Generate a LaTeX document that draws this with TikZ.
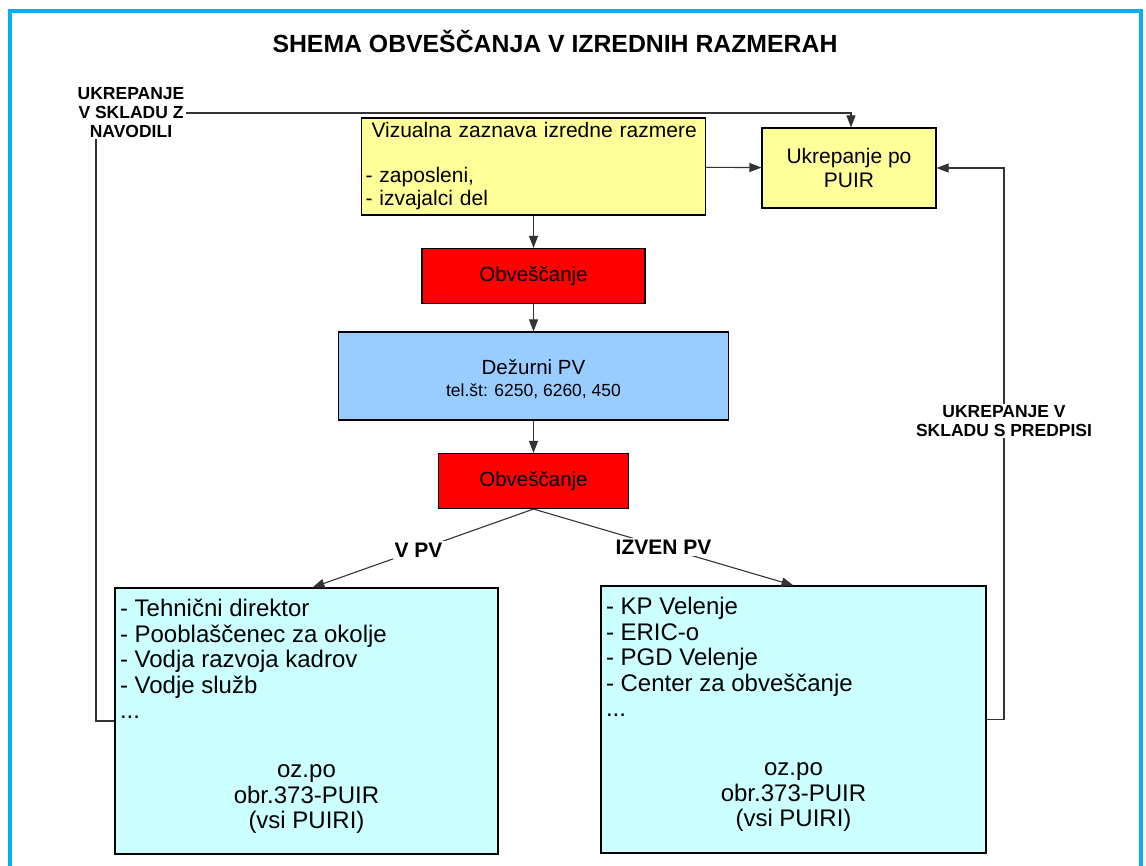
\documentclass[tikz,border=0pt]{standalone}
\usepackage{fontspec}
\setmainfont{Liberation Sans}
\usetikzlibrary{arrows.meta}

\definecolor{okvir}{RGB}{0,176,240}
\definecolor{rumena}{RGB}{255,255,153}
\definecolor{rdeca}{RGB}{255,0,0}
\definecolor{modra}{RGB}{153,204,255}
\definecolor{svetla}{RGB}{204,255,255}

\begin{document}
\begin{tikzpicture}[x=1pt,y=-1pt,
    skatla/.style={draw=black,line width=1.1pt,inner sep=0pt,
      font=\fontsize{21}{23.5}\selectfont},
    povezava/.style={draw=black!80,line width=1.1pt},
    puscica/.style={povezava,-{Triangle[length=12pt,width=9pt]}},
    oznaka/.style={font=\bfseries\fontsize{17.5}{19}\selectfont,align=center,inner sep=1pt},
    veja/.style={font=\bfseries\fontsize{21}{24}\selectfont,fill=white,inner sep=2pt}]
  \useasboundingbox (0,0) rectangle (1146,866);
  \draw[okvir,line width=3.5pt] (10,880) -- (10,11) -- (1141,11) -- (1141,880);

  \node[font=\bfseries\fontsize{24.8}{28}\selectfont] (naslov) at (555,42)
    {SHEMA OBVEŠČANJA V IZREDNIH RAZMERAH};

  % zgornji del
  \node[skatla,fill=rumena,minimum width=344,minimum height=97,inner xsep=4pt,
    text width=336,align=left] (zaznava) at (533.5,166.5)
    {\hspace*{6pt}Vizualna zaznava izredne razmere\\[21pt]- zaposleni,\\- izvajalci del};
  \node[skatla,fill=rumena,minimum width=174,minimum height=80,align=center]
    (puir) at (849,168) {Ukrepanje po\\PUIR};
  \node[skatla,fill=rdeca,minimum width=223,minimum height=55,
    font=\fontsize{20.5}{23}\selectfont] (obv1) at (533.5,276) {Obveščanje};
  \node[skatla,fill=modra,minimum width=390,minimum height=88,align=center,
    font=\fontsize{20.5}{23.5}\selectfont] (dezurni) at (533.5,376)
    {\rule{0pt}{21pt}Dežurni PV\\[-1pt]{\fontsize{17.5}{20}\selectfont tel.št: 6250, 6260, 450}};
  \node[skatla,fill=rdeca,minimum width=190,minimum height=55,
    font=\fontsize{20.5}{23}\selectfont] (obv2) at (533.5,481) {Obveščanje};

  % spodnji del
  \node[skatla,fill=svetla,minimum width=383,minimum height=266,inner xsep=5pt,
    inner ysep=4pt,font=\fontsize{24}{25.5}\selectfont] (vpv) at (306.5,721)
    {\parbox[c][258pt][t]{373pt}{\vspace*{7.5pt}\raggedright
      - Tehnični direktor\\- Pooblaščenec za okolje\\- Vodja razvoja kadrov\\
      - Vodje služb\\...\par\vspace{33.5pt}\centering
      oz.po\\obr.373-PUIR\\(vsi PUIRI)\par}};
  \node[skatla,fill=svetla,minimum width=385,minimum height=267,inner xsep=5pt,
    inner ysep=4pt,font=\fontsize{24}{25.5}\selectfont] (izven) at (793.5,719.5)
    {\parbox[c][259pt][t]{375pt}{\vspace*{7.5pt}\raggedright
      - KP Velenje\\- ERIC-o\\- PGD Velenje\\
      - Center za obveščanje\\...\par\vspace{33.5pt}\centering
      oz.po\\obr.373-PUIR\\(vsi PUIRI)\par}};

  \node[oznaka] (navodila) at (131,113) {UKREPANJE\\V SKLADU Z\\NAVODILI};
  \node[oznaka] (predpisi) at (1004,421) {UKREPANJE V\\SKLADU S PREDPISI};

  % povezave
  \draw[puscica] (zaznava) -- (puir);
  \draw[puscica] (zaznava.south) -- (obv1.north);
  \draw[puscica] (obv1) -- (dezurni);
  \draw[puscica] (dezurni) -- (obv2);
  \draw[puscica] (obv2.south) -- node[veja,pos=0.52] (vpvlbl) {V PV} ([xshift=6pt]vpv.north);
  \draw[puscica] (obv2.south) -- node[veja] (izvenlbl) {IZVEN PV} (izven.north);

  \draw[puscica] (navodila.east) -| ([xshift=2pt]puir.north);
  \draw[povezava] (vpv.west) -| ([xshift=-35pt]navodila.south);
  \draw[povezava] (izven.east) -| (predpisi.south);
  \draw[puscica] (predpisi.north) |- (puir.east);
\end{tikzpicture}
\end{document}
